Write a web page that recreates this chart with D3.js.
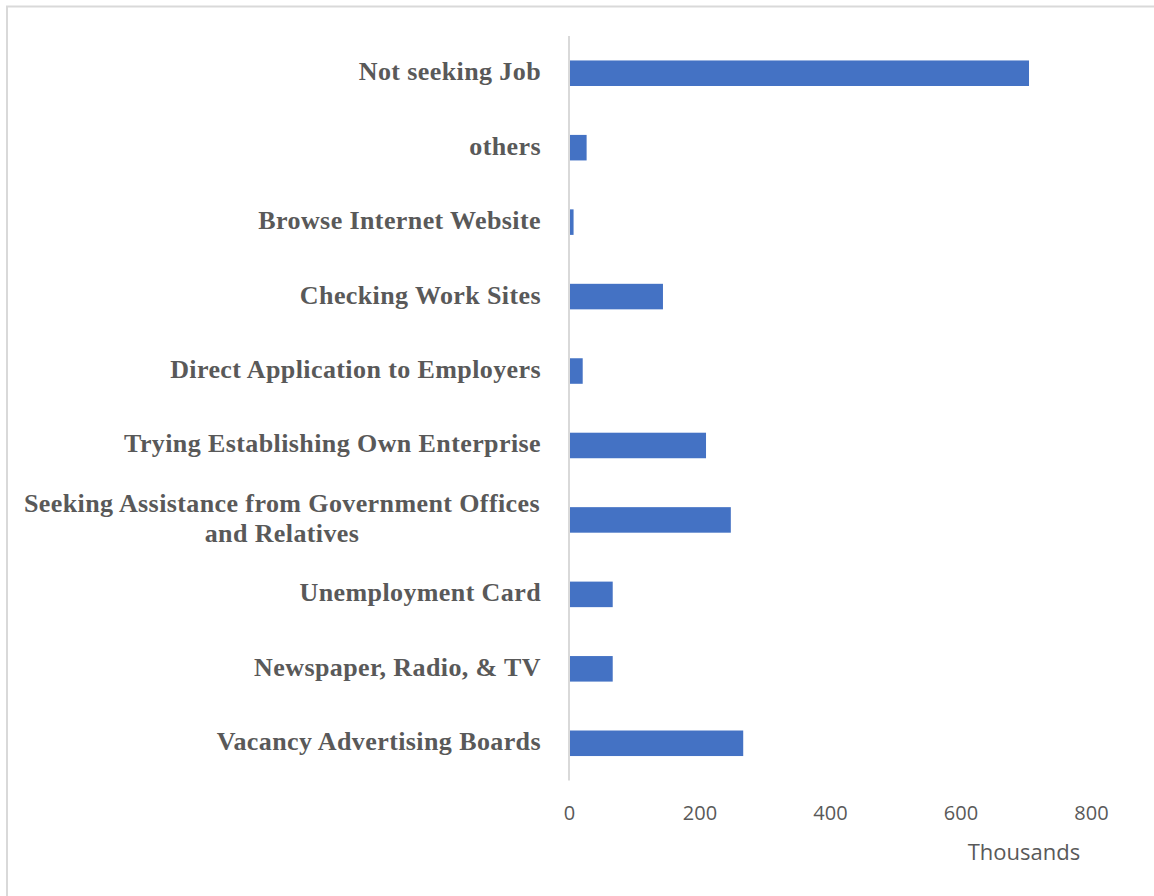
<!DOCTYPE html>
<html>
<head>
<meta charset="utf-8">
<script src="https://cdn.jsdelivr.net/npm/d3@7"></script>
<style>
  html, body { margin: 0; padding: 0; background: #ffffff; }
  svg { display: block; }
</style>
</head>
<body>
<svg id="chart" width="1154" height="896"></svg>
<script>
// Job-search methods, listed top to bottom as drawn
const categories = [
  "Not seeking Job",
  "others",
  "Browse Internet Website",
  "Checking Work Sites",
  "Direct Application to Employers",
  "Trying Establishing Own Enterprise",
  "Seeking Assistance from Government Offices|and Relatives",
  "Unemployment Card",
  "Newspaper, Radio, & TV",
  "Vacancy Advertising Boards"
];
// Persons, in thousands
const values = [705, 27, 7, 144, 21, 210, 248, 67, 67, 267];
const xTicks = [0, 200, 400, 600, 800];
const axisUnit = "Thousands";

const svg = d3.select("#chart");

// Chart frame (top and left edges show)
svg.append("path")
  .attr("d", "M7,1000 L7,6.5 L1200,6.5")
  .attr("fill", "none")
  .attr("stroke", "#d9d9d9")
  .attr("stroke-width", 2);

const x = d3.scaleLinear().domain([0, 800]).range([569, 1091]);
const y = d3.scaleBand()
  .domain(categories)
  .range([36, 780.5])
  .paddingInner(0.657)
  .paddingOuter(0.657 / 2);

// Bars
svg.append("g")
  .selectAll("rect")
  .data(categories)
  .join("rect")
  .attr("x", x(0))
  .attr("y", d => y(d))
  .attr("width", (d, i) => x(values[i]) - x(0))
  .attr("height", y.bandwidth())
  .attr("fill", "#4472c4");

// Vertical category axis line
svg.append("line")
  .attr("x1", x(0)).attr("x2", x(0))
  .attr("y1", 36).attr("y2", 780.5)
  .attr("stroke", "#d9d9d9")
  .attr("stroke-width", 2);

// Category labels
const labelFont = "'Liberation Serif', 'Times New Roman', serif";
const labels = svg.append("g")
  .attr("font-family", labelFont)
  .attr("font-weight", "bold")
  .attr("font-size", 26)
  .attr("letter-spacing", "0.4px")
  .attr("fill", "#595959");

categories.forEach(c => {
  const cy = y(c) + y.bandwidth() / 2;
  const lines = c.split("|");
  if (lines.length === 1) {
    labels.append("text")
      .attr("x", 541)
      .attr("y", cy + 7)
      .attr("text-anchor", "end")
      .text(c);
  } else {
    const first = labels.append("text")
      .attr("x", 540)
      .attr("y", cy - 8)
      .attr("text-anchor", "end")
      .text(lines[0]);
    const w = first.node().getComputedTextLength();
    labels.append("text")
      .attr("x", 540 - w / 2)
      .attr("y", cy + 22)
      .attr("text-anchor", "middle")
      .text(lines[1]);
  }
});

// Value axis
const xAxis = d3.axisBottom(x)
  .tickValues(xTicks)
  .tickSize(0)
  .tickPadding(26)
  .tickFormat(d3.format("d"));

const gx = svg.append("g")
  .attr("transform", "translate(0,780)")
  .call(xAxis);
gx.select(".domain").remove();
gx.selectAll("text")
  .attr("font-family", "'Open Sans', sans-serif")
  .attr("font-size", 20)
  .attr("fill", "#595959");

// Display unit label
svg.append("text")
  .attr("x", 1024)
  .attr("y", 860)
  .attr("text-anchor", "middle")
  .attr("font-family", "'Open Sans', sans-serif")
  .attr("font-size", 22)
  .attr("fill", "#595959")
  .text(axisUnit);
</script>
</body>
</html>
